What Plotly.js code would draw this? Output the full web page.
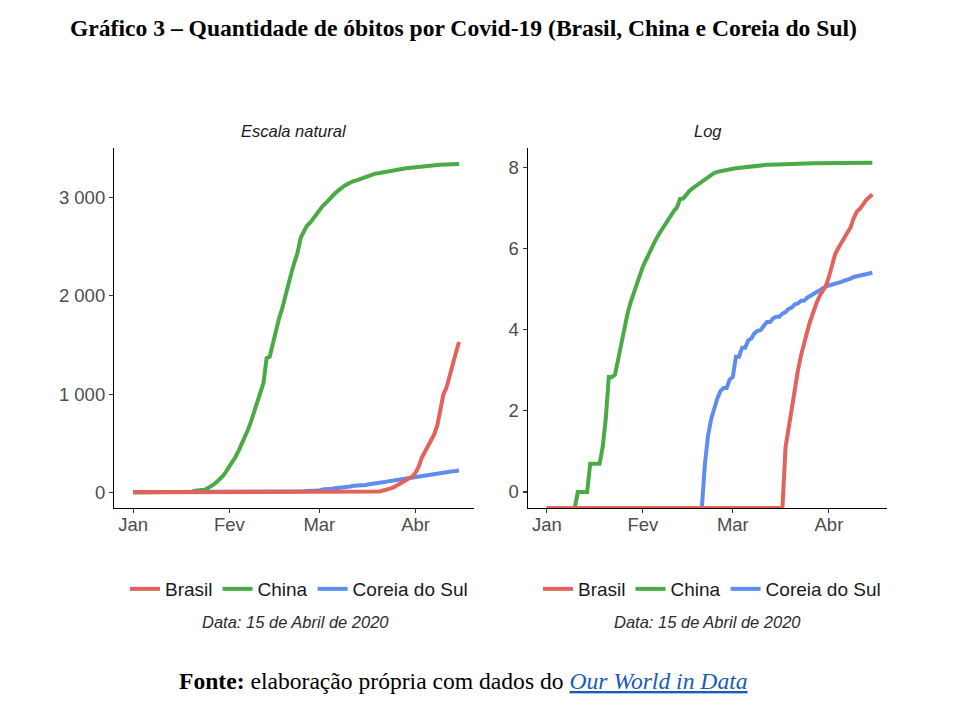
<!DOCTYPE html>
<html>
<head>
<meta charset="utf-8">
<script src="https://cdn.plot.ly/plotly-3.0.1.min.js"></script>
<style>
html,body{margin:0;padding:0;background:#ffffff;}
#chart{width:980px;height:721px;}
</style>
</head>
<body>
<div id="chart"></div>
<script>
// ---------- DATA (cumulative Covid-19 deaths, daily from 2020-01-01 to 2020-04-15) ----------
const startDate = '2020-01-01';
const seriesNames = ['Brasil', 'China', 'Coreia do Sul'];

const brasil = [
  0,0,0,0,0,0,0,0,0,0, 0,0,0,0,0,0,0,0,0,0, 0,0,0,0,0,0,0,0,0,0,
  0,0,0,0,0,0,0,0,0,0, 0,0,0,0,0,0,0,0,0,0, 0,0,0,0,0,0,0,0,0,0,
  0,0,0,0,0,0,0,0,0,0, 0,0,0,0,0,0,0,
  3,5,8,13,20,29,40,52,68,86,105,125,145,160,200,260,350,405,465,530,
  590,680,850,1000,1070,1200,1330,1420,1530
];

const china = [
  0,0,0,0,0,0,0,0,0,0,
  1,1,1,1,2,2,2,2,3,6,17,17,18,26,41,56,80,106,132,170,
  213,259,304,361,425,490,563,636,722,811,908,1016,1113,1367,1380,1523,1665,1770,1868,2004,
  2118,2236,2345,2442,2592,2663,2715,2744,2788,2835,2870,2912,2943,2981,3012,3042,3070,3097,3119,3136,
  3158,3169,3176,3189,3199,3213,3226,3237,3245,3248,3255,3261,3270,3277,3281,3287,3292,3295,3300,3304,
  3305,3312,3318,3322,3326,3330,3331,3331,3333,3335,3336,3339,3339,3341,3342,3342
];

const coreia = [
  0,0,0,0,0,0,0,0,0,0, 0,0,0,0,0,0,0,0,0,0, 0,0,0,0,0,0,0,0,0,0,
  0,0,0,0,0,0,0,0,0,0, 0,0,0,0,0,0,0,0,0,0, 0,
  2,4,6,8,10,12,13,13,16,17,28,28,35,35,42,44,50,53,54,60,
  66,66,72,75,75,81,84,91,94,102,104,111,111,120,126,131,139,144,152,158,
  162,165,169,174,177,183,186,192,200,204,208,211,214,217,222
];

const monthTickDates = ['2020-01-01', '2020-02-01', '2020-03-01', '2020-04-01'];
const monthTickLabels = ['Jan', 'Fev', 'Mar', 'Abr'];
const naturalTickVals = [0, 1000, 2000, 3000];
const naturalTickText = ['0', '1 000', '2 000', '3 000'];
const logTickVals = [0, 2, 4, 6, 8];
const logTickText = ['0', '2', '4', '6', '8'];

const panelTitles = ['Escala natural', 'Log'];
const captionText = 'Data: 15 de Abril de 2020';
const chartTitle = 'Gráfico 3 – Quantidade de óbitos por Covid-19 (Brasil, China e Coreia do Sul)';

// ---------- STYLE ----------
const colors = {'Brasil': '#E2625C', 'China': '#4AAA45', 'Coreia do Sul': '#5F8DEF'};
const xRange = ['2019-12-25 20:00', '2020-04-19 20:00'];
const yRangeNatural = [-160, 3506];
const yRangeLog = [-0.394, 8.475];

// build dates
const dates = [];
{
  const d0 = new Date(startDate + 'T00:00:00Z');
  for (let i = 0; i < china.length; i++) {
    const d = new Date(d0.getTime() + i * 86400000);
    dates.push(d.toISOString().slice(0, 10));
  }
}

// log transform: zero deaths -> -Inf, drawn at the panel floor like ggplot
const toLog = arr => arr.map(v => v > 0 ? Math.log(v) : yRangeLog[0]);

const seriesData = {'Brasil': brasil, 'China': china, 'Coreia do Sul': coreia};
const drawOrder = ['China', 'Coreia do Sul', 'Brasil'];
const rank = {'Brasil': 1, 'China': 2, 'Coreia do Sul': 3};

const traces = [];
drawOrder.forEach(name => {
  traces.push({
    type: 'scatter', mode: 'lines', name: name,
    x: dates, y: seriesData[name],
    xaxis: 'x', yaxis: 'y',
    line: {color: colors[name], width: 4},
    legend: 'legend', legendrank: rank[name],
    hoverinfo: 'skip'
  });
});
drawOrder.forEach(name => {
  traces.push({
    type: 'scatter', mode: 'lines', name: name,
    x: dates, y: toLog(seriesData[name]),
    xaxis: 'x2', yaxis: 'y2',
    line: {color: colors[name], width: 4},
    legend: 'legend2', legendrank: rank[name],
    hoverinfo: 'skip'
  });
});

const axisCommon = {
  showgrid: false, zeroline: false,
  showline: true, linecolor: '#000000', linewidth: 1.1,
  ticks: 'outside', ticklen: 4, tickwidth: 1.1, tickcolor: '#333333',
  tickfont: {family: 'Liberation Sans, Arial, sans-serif', size: 18.5, color: '#4D4D4D'},
  fixedrange: true
};

const yDomain = [1 - 508 / 721, 1 - 148 / 721];

const legendCommon = {
  orientation: 'h', xanchor: 'center', yanchor: 'middle',
  y: 1 - 589 / 721,
  font: {family: 'Liberation Sans, Arial, sans-serif', size: 19, color: '#1A1A1A'},
  bgcolor: 'rgba(0,0,0,0)', traceorder: 'normal'
};

const layout = {
  width: 980, height: 721,
  margin: {l: 0, r: 0, t: 0, b: 0},
  paper_bgcolor: '#ffffff', plot_bgcolor: '#ffffff',
  font: {family: 'Liberation Sans, Arial, sans-serif', color: '#4D4D4D'},
  showlegend: true,
  xaxis: Object.assign({}, axisCommon, {
    domain: [114 / 980, 474 / 980], anchor: 'y', type: 'date', range: xRange,
    tickmode: 'array', tickvals: monthTickDates, ticktext: monthTickLabels,
    ticklabelstandoff: -4
  }),
  yaxis: Object.assign({}, axisCommon, {
    domain: yDomain, anchor: 'x', range: yRangeNatural,
    tickmode: 'array', tickvals: naturalTickVals, ticktext: naturalTickText
  }),
  xaxis2: Object.assign({}, axisCommon, {
    domain: [527.7 / 980, 887.3 / 980], anchor: 'y2', type: 'date', range: xRange,
    tickmode: 'array', tickvals: monthTickDates, ticktext: monthTickLabels,
    ticklabelstandoff: -4
  }),
  yaxis2: Object.assign({}, axisCommon, {
    domain: yDomain, anchor: 'x2', range: yRangeLog,
    tickmode: 'array', tickvals: logTickVals, ticktext: logTickText
  }),
  legend: Object.assign({}, legendCommon, {x: 299 / 980}),
  legend2: Object.assign({}, legendCommon, {x: 712 / 980}),
  annotations: [
    {text: '<b>' + chartTitle + '</b>', xref: 'paper', yref: 'paper',
     x: 463 / 980, y: 1 - 28 / 721, xanchor: 'center', yanchor: 'middle', showarrow: false,
     font: {family: 'Liberation Serif, Times New Roman, serif', size: 23.6, color: '#000000'}},
    {text: '<i>' + panelTitles[0] + '</i>', xref: 'paper', yref: 'paper',
     x: 294 / 980, y: 1 - 131 / 721, xanchor: 'center', yanchor: 'middle', showarrow: false,
     font: {family: 'Liberation Sans, Arial, sans-serif', size: 16.5, color: '#1A1A1A'}},
    {text: '<i>' + panelTitles[1] + '</i>', xref: 'paper', yref: 'paper',
     x: 707.5 / 980, y: 1 - 131 / 721, xanchor: 'center', yanchor: 'middle', showarrow: false,
     font: {family: 'Liberation Sans, Arial, sans-serif', size: 16.5, color: '#1A1A1A'}},
    {text: '<i>' + captionText + '</i>', xref: 'paper', yref: 'paper',
     x: 295.5 / 980, y: 1 - 622 / 721, xanchor: 'center', yanchor: 'middle', showarrow: false,
     font: {family: 'Liberation Sans, Arial, sans-serif', size: 16.5, color: '#2B2B2B'}},
    {text: '<i>' + captionText + '</i>', xref: 'paper', yref: 'paper',
     x: 707.5 / 980, y: 1 - 622 / 721, xanchor: 'center', yanchor: 'middle', showarrow: false,
     font: {family: 'Liberation Sans, Arial, sans-serif', size: 16.5, color: '#2B2B2B'}},
    {text: '<b>Fonte:</b> elaboração própria com dados do <span style="color:#1A5BB8"><i><u>Our World in Data</u></i></span>',
     xref: 'paper', yref: 'paper',
     x: 463.5 / 980, y: 1 - 681 / 721, xanchor: 'center', yanchor: 'middle', showarrow: false,
     font: {family: 'Liberation Serif, Times New Roman, serif', size: 23.6, color: '#000000'}}
  ]
};

Plotly.newPlot('chart', traces, layout, {displayModeBar: false, staticPlot: true});
</script>
</body>
</html>
